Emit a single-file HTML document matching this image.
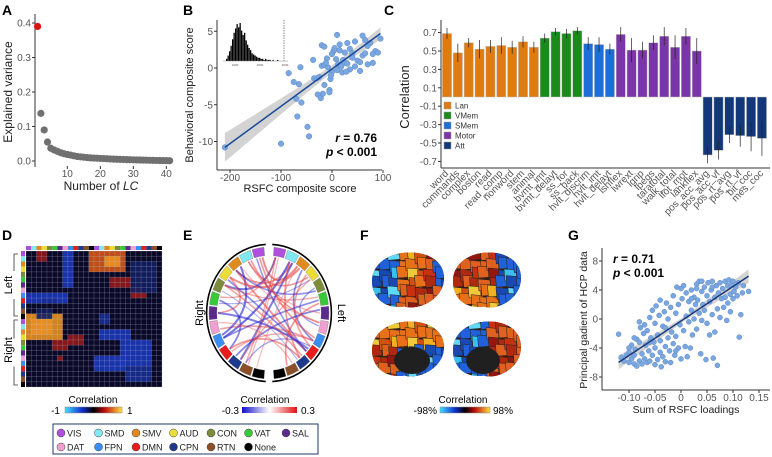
<!DOCTYPE html>
<html><head><meta charset="utf-8"><style>
body{margin:0;background:#fff}
svg{display:block;font-family:"Liberation Sans",sans-serif}
.tk{font-size:10px;fill:#555}
.pl{font-size:14px;font-weight:bold;fill:#000}
</style></head><body>
<svg id="s" width="772" height="457" viewBox="0 0 772 457" xmlns="http://www.w3.org/2000/svg">
<defs>
<linearGradient id="gD" x1="0" x2="1"><stop offset="0" stop-color="#40e0ff"/><stop offset=".3" stop-color="#1030d0"/><stop offset=".5" stop-color="#000"/><stop offset=".7" stop-color="#c01010"/><stop offset="1" stop-color="#ffe040"/></linearGradient>
<linearGradient id="gE" x1="0" x2="1"><stop offset="0" stop-color="#1010c8"/><stop offset=".5" stop-color="#fff"/><stop offset="1" stop-color="#e01010"/></linearGradient>
</defs>
<text class="pl" x="2" y="15">A</text>
<text class="pl" x="183" y="15">B</text>
<text class="pl" x="384" y="15">C</text>
<text class="pl" x="2" y="240">D</text>
<text class="pl" x="183" y="240">E</text>
<text class="pl" x="360" y="240">F</text>
<text class="pl" x="568" y="240">G</text>
<text x="12" y="92" font-size="12" fill="#222" text-anchor="middle" transform="rotate(-90 12 92)">Explained variance</text>
<text x="101" y="190" font-size="12" fill="#222" text-anchor="middle">Number of <tspan font-style="italic">LC</tspan></text>
<text x="193" y="95" font-size="11" fill="#222" text-anchor="middle" transform="rotate(-90 193 95)">Behavioral composite score</text>
<text x="300" y="192" font-size="11" fill="#222" text-anchor="middle">RSFC composite score</text>
<text x="377" y="142" font-size="12" font-weight="bold" text-anchor="end"><tspan font-style="italic">r</tspan> = 0.76</text>
<text x="377" y="156" font-size="12" font-weight="bold" text-anchor="end"><tspan font-style="italic">p</tspan> &lt; 0.001</text>
<text x="409" y="97" font-size="13" fill="#222" text-anchor="middle" transform="rotate(-90 409 97)">Correlation</text>
<text x="587" y="320" font-size="10.5" fill="#222" text-anchor="middle" transform="rotate(-90 587 320)">Principal gadient of HCP data</text>
<text x="686" y="413" font-size="10.5" fill="#222" text-anchor="middle">Sum of RSFC loadings</text>
<text x="613" y="263" font-size="12" font-weight="bold"><tspan font-style="italic">r</tspan> = 0.71</text>
<text x="613" y="277" font-size="12" font-weight="bold"><tspan font-style="italic">p</tspan> &lt; 0.001</text>
<text x="12" y="285" font-size="11" text-anchor="middle" transform="rotate(-90 12 285)">Left</text>
<text x="12" y="350" font-size="11" text-anchor="middle" transform="rotate(-90 12 350)">Right</text>
<text x="203" y="313" font-size="11" text-anchor="middle" transform="rotate(-90 203 313)">Right</text>
<text x="338" y="313" font-size="11" text-anchor="middle" transform="rotate(90 338 313)">Left</text>
<text x="93" y="403" font-size="10" text-anchor="middle">Correlation</text>
<rect x="65" y="407" width="57" height="6" fill="url(#gD)" stroke="#888" stroke-width=".5"/>
<text x="60" y="414" font-size="10" text-anchor="end">-1</text>
<text x="127" y="414" font-size="10">1</text>
<text x="265" y="403" font-size="10" text-anchor="middle">Correlation</text>
<rect x="242" y="407" width="55" height="6" fill="url(#gE)"/>
<text x="239" y="414" font-size="10" text-anchor="end">-0.3</text>
<text x="301" y="414" font-size="10">0.3</text>
<text x="463" y="403" font-size="10" text-anchor="middle">Correlation</text>
<rect x="440" y="407" width="50" height="6" fill="url(#gD)" stroke="#888" stroke-width=".5"/>
<text x="437" y="414" font-size="10" text-anchor="end">-98%</text>
<text x="493" y="414" font-size="10">98%</text>
<rect x="53" y="424" width="265" height="30" fill="#fff" stroke="#1e3a6a" stroke-width="1"/>
</svg>
<script>
const svg=document.getElementById('s');const NS='http://www.w3.org/2000/svg';
function mk(t,a,p){const e=document.createElementNS(NS,t);for(const k in a)e.setAttribute(k,a[k]);(p||svg).appendChild(e);return e;}
function tx(s,a,p){const e=mk('text',a,p);e.textContent=s;return e;}

// ---------- data ----------
const aVariance=[0.39,0.138,0.09,0.055,0.037,0.032,0.028,0.024,0.021,0.019,0.017,0.015,0.013,0.012,0.011,0.010,0.009,0.0085,0.008,0.0075,0.007,0.0065,0.006,0.0055,0.005,0.0047,0.0044,0.004,0.0037,0.0034,0.0031,0.0028,0.0025,0.0023,0.002,0.0018,0.0016,0.0014,0.0012,0.001,0.0008];
const aXTicks=[10,20,30,40];const aYTicks=[0,0.1,0.2,0.3,0.4];
const bX=[-210,-100,-45,-48,-68,-75,-62,-85,-60,-70,-65,-35,-30,-25,-37,-28,-22,-18,-15,-20,-15,-10,-5,-5,-3,0,-2,-8,0,3,5,10,5,8,15,12,18,20,22,25,30,35,40,35,30,40,50,55,60,65,70,75,60,65,80,85,70,55,45,90,95,-20,-15,10,25,28,-12,15,45,80];
const bY=[-10.8,-10.3,-9.3,-8,-6.6,-1.9,0.1,-0.7,-4.7,-4.2,-2.2,-1.4,-1.4,-1.2,1.1,-3.6,-4.1,-3.5,-2.3,0.3,0.4,1.3,-3.0,-3.3,-1.5,-0.5,-1.0,0.1,1.9,2.3,2.5,4.5,2.7,1.2,2.4,0.5,0.2,-0.6,1.1,0.7,3.4,2.6,2.0,-0.2,0.6,1.4,1.0,0.8,1.7,2.0,3.0,3.4,4.4,3.8,0.7,2.3,0.5,-0.4,0.2,2.1,4.0,3.1,2.9,-0.3,2.1,-0.5,0.7,3.2,3.6,1.9];
const bXTicks=[-200,-100,0,100];const bYTicks=[5,0,-5,-10];
const bHist=[2,5,9,14,20,26,30,34,31,35,28,24,26,19,15,12,10,7,6,5,4,3,3,2,2,1,2,1,1,1,0,1,0,0,1,0,0,0,0,0];
const cLabels=['word','commands','complex','boston','read','read_comp','nonword','stem','animal','bvmt_imt','bvmt_delayt','ss_for','ss_back','hvlt_discrim','hvlt_imt','hvlt_delayt','lshflex','lwrext','lgrip','lpegs','taratotal','walk_total','lfot_mot','lankflex','pos_acc_avg','pos_acc_vf','pos_rt_avg','pos_rt_vf','bit_coc','mes_coc'];
const cValues=[0.69,0.48,0.59,0.52,0.55,0.56,0.54,0.60,0.54,0.64,0.71,0.69,0.72,0.58,0.57,0.52,0.68,0.51,0.51,0.59,0.66,0.54,0.66,0.50,-0.63,-0.58,-0.41,-0.42,-0.43,-0.45];
const cErrors=[0.06,0.10,0.05,0.10,0.07,0.09,0.07,0.06,0.06,0.05,0.04,0.05,0.04,0.07,0.08,0.06,0.08,0.13,0.09,0.08,0.10,0.13,0.09,0.14,0.09,0.10,0.09,0.12,0.16,0.19];
const cGroups=[0,0,0,0,0,0,0,0,0,1,1,1,1,2,2,2,3,3,3,3,3,3,3,3,4,4,4,4,4,4];
const cGroupNames=['Lan','VMem','SMem','Motor','Att'];
const cYTicks=[0.7,0.5,0.3,0.1,-0.1,-0.3,-0.5,-0.7];
const gX=[-0.12,-0.115,-0.11,-0.105,-0.10,-0.10,-0.095,-0.095,-0.09,-0.09,-0.088,-0.085,-0.085,-0.08,-0.08,-0.08,-0.078,-0.075,-0.075,-0.072,-0.07,-0.07,-0.068,-0.065,-0.065,-0.062,-0.06,-0.06,-0.058,-0.055,-0.055,-0.052,-0.05,-0.05,-0.05,-0.048,-0.045,-0.045,-0.042,-0.04,-0.04,-0.04,-0.038,-0.035,-0.035,-0.032,-0.03,-0.03,-0.028,-0.025,-0.025,-0.022,-0.02,-0.02,-0.018,-0.015,-0.015,-0.012,-0.01,-0.01,-0.008,-0.005,-0.005,-0.002,0,0,0.002,0.005,0.005,0.008,0.01,0.01,0.012,0.015,0.015,0.018,0.02,0.02,0.022,0.025,0.025,0.028,0.03,0.03,0.032,0.035,0.035,0.038,0.04,0.04,0.042,0.045,0.045,0.048,0.05,0.05,0.052,0.055,0.055,0.058,0.06,0.06,0.062,0.065,0.065,0.068,0.07,0.07,0.072,0.075,0.075,0.078,0.08,0.082,0.085,0.085,0.088,0.09,0.09,0.092,0.095,0.095,0.098,0.1,0.1,0.102,0.105,0.108,0.11,0.112,0.115,0.118,0.12,0.13,-0.06,-0.09,-0.1,0.03,0.04,0.06,0.02,-0.03,-0.01];
const gY=[-2.1,-5.3,-5.8,-5.0,-4.6,-6.0,-5.5,-3.6,-6.2,-5.0,-4.2,-2.8,-6.5,-5.8,-3.2,-0.4,-1.2,-6.2,-4.8,-2.0,-5.5,-0.8,-3.6,-6.0,-1.6,-4.4,-5.8,0.2,-2.6,-5.0,1.2,-3.2,-6.3,-4.0,-0.6,1.8,-5.6,-2.2,0.5,-4.6,-3.0,2.6,-6.6,-5.2,-1.0,1.0,-3.8,-5.9,2.2,-2.6,0.0,-4.4,-6.0,1.6,-1.8,-3.4,3.2,-5.0,0.8,-2.4,4.4,-4.0,2.0,-0.8,4.2,-5.5,2.8,-1.6,4.6,-3.8,0.4,3.6,-5.2,2.4,-0.4,-4.0,1.2,4.0,-2.2,3.0,0.0,2.0,4.8,-1.4,2.6,5.2,0.8,-4.8,3.8,-0.2,2.0,4.4,1.2,-5.6,3.2,-0.6,5.0,2.4,-2.2,4.0,0.6,5.2,-5.4,3.0,-1.8,4.6,1.4,-6.4,3.6,5.0,0.2,2.8,4.2,1.6,5.2,3.0,-0.2,4.6,2.2,5.4,3.4,1.0,4.8,5.2,2.8,3.8,4.4,3.2,5.0,-2.5,0.6,3.6,4.6,3.8,-3.2,-2.6,-4.0,4.2,5.2,4.4,2.8,-1.2,-4.4];
const gXTicks=[-0.10,-0.05,0,0.05,0.10,0.15];const gXTickLabels=['-0.10','-0.05','0','0.05','0.10','0.15'];const gYTicks=[8,4,0,-4,-8];
const netNames=['VIS','SMD','SMV','AUD','CON','VAT','SAL','DAT','FPN','DMN','CPN','RTN','None'];
const netColors=['#b04ee0','#80e8f0','#e08a20','#ecdc38','#7d8c3a','#38c838','#5c2a8c','#f0a0d0','#3a8ef0','#e81c1c','#1e3a8c','#8c5028','#000'];
const dBlocks=[[0,2,2,4,0.6],[0,12,4,19,0.9],[1,15,3,18,1],[0,7,7,9,-0.7],[8,0,10,8,-0.7],[9,3,10,6,-0.5],[5,16,7,20,0.6],[7,20,9,22,0.6],[8,22,9,23,0.7],[12,0,17,7,0.95],[13,1,16,5,1],[17,5,19,8,0.6],[16,8,18,11,0.7],[20,6,21,7,0.6],[15,14,17,20,-0.6],[17,18,22,24,-0.7],[20,13,23,19,-0.6],[22,19,25,24,-0.5],[2,20,8,25,-0.35],[11,2,13,5,-0.3],[12,14,14,16,-0.4]];
const eFromNet=[0,1,2,0,1,3,4,5,7,8,9,10,11,6,2,3,4,5,6,8,9,10,1,0,2,3,4,7,8,9,11,1,3,5,6,10,2,0,4,7];
const eFromSide=[0,0,0,1,1,0,0,0,0,0,0,0,0,0,1,1,1,1,1,1,1,1,0,0,0,0,0,0,0,0,0,1,1,0,0,0,1,1,1,1];
const eToNet=[2,3,1,4,8,9,5,9,8,2,10,1,0,3,8,9,7,11,10,0,2,4,6,9,7,2,10,11,5,8,9,10,5,0,9,3,12,11,2,1];
const eToSide=[1,1,1,0,0,1,1,0,1,0,1,1,1,0,1,1,1,1,0,0,0,0,1,1,1,1,1,1,1,1,1,1,0,1,1,1,0,0,0,0];
const eValues=[0.25,0.2,0.22,-0.25,-0.28,-0.2,0.15,-0.22,0.18,-0.26,0.2,-0.25,0.15,0.2,-0.2,0.18,-0.15,0.2,-0.22,0.2,0.22,0.18,0.12,-0.18,0.1,0.25,-0.1,0.12,-0.2,0.15,-0.14,0.2,-0.12,0.16,-0.25,0.14,0.1,0.12,-0.18,0.2];

// ---------- Panel A ----------
const xA=v=>37.6+(v-1)*3.3, yA=v=>161-v*345;
let e=mk('line',{x1:35,y1:14,x2:35,y2:167,stroke:'#333','stroke-width':1});

aYTicks.forEach(v=>{e=tx(v.toFixed(1),{class:'tk',x:31,y:yA(v)+3.5,'text-anchor':'end'});

mk('line',{x1:32,x2:35,y1:yA(v),y2:yA(v),stroke:'#333'});});
aXTicks.forEach(v=>{e=tx(v,{class:'tk',x:xA(v),y:177,'text-anchor':'middle'});

mk('line',{x1:xA(v),x2:xA(v),y1:166,y2:169,stroke:'#333'});});
aVariance.forEach((v,i)=>{e=mk('circle',{cx:xA(i+1),cy:yA(v),r:3.6,fill:i==0?'#e01010':'#707070'});
});

// ---------- Panel B ----------
const xB=v=>332+v*0.51, yB=v=>68-v*7.35;
const bLine=x=>-0.13+0.0508*x, bHw=x=>Math.sqrt(0.25+(x-15)*(x-15)*0.00007);
let pts=[];for(let x=-210;x<=95;x+=5)pts.push([xB(x),yB(bLine(x)+bHw(x))]);
for(let x=95;x>=-210;x-=5)pts.push([xB(x),yB(bLine(x)-bHw(x))]);
e=mk('polygon',{points:pts.map(p=>p.join(',')).join(' '),fill:'#c8c8c8','fill-opacity':.8});

bX.forEach((x,i)=>{e=mk('circle',{cx:xB(x),cy:yB(bY[i]),r:2.8,fill:'#7ba7e0',stroke:'#5b87c8','stroke-width':.5});
});
e=mk('line',{x1:xB(-210),y1:yB(bLine(-210)),x2:xB(95),y2:yB(bLine(95)),stroke:'#1a4a9a','stroke-width':1.5});

e=mk('line',{x1:217,y1:20,x2:217,y2:170,stroke:'#333'});

e=mk('line',{x1:217,y1:170,x2:382,y2:170,stroke:'#333'});

bYTicks.forEach(v=>{e=tx(v,{class:'tk',x:213,y:yB(v)+3.5,'text-anchor':'end'});

mk('line',{x1:214,x2:217,y1:yB(v),y2:yB(v),stroke:'#333'});});
bXTicks.forEach(v=>{e=tx(v,{class:'tk',x:xB(v),y:181,'text-anchor':'middle'});

mk('line',{x1:xB(v),x2:xB(v),y1:170,y2:173,stroke:'#333'});});
const hMax=Math.max(...bHist);
bHist.forEach((c,i)=>{if(!c)return;e=mk('rect',{x:226+i*1.5,y:61-c/hMax*38,width:1.3,height:c/hMax*38,fill:'#000'});
});
e=mk('line',{x1:223,y1:61,x2:288,y2:61,stroke:'#888','stroke-width':.5});

e=mk('line',{x1:284,y1:20,x2:284,y2:61,stroke:'#444','stroke-width':.6,'stroke-dasharray':'1.5,1'});

['1000','2000','3000'].forEach((s,i)=>{e=tx(s,{x:235+i*25,y:66,'font-size':3,fill:'#555','text-anchor':'middle'});
});

// ---------- Panel C ----------
const yC=v=>97-v*92, xC=i=>447+i*10.86;
const groupColors=['#e07b10','#1a8a1a','#1c6fd8','#7a35a8','#12387a'];
cValues.forEach((v,i)=>{const y0=yC(0),y1=yC(v);
e=mk('rect',{x:xC(i)-4.6,y:Math.min(y0,y1),width:9.2,height:Math.abs(y1-y0),fill:groupColors[cGroups[i]],stroke:'#bbb','stroke-width':.5});

e=mk('line',{x1:xC(i),x2:xC(i),y1:yC(v-cErrors[i]),y2:yC(v+cErrors[i]),stroke:'#222','stroke-width':.7});

e=tx(cLabels[i],{class:'tk','font-size':7.3,x:xC(i)+2,y:174,'text-anchor':'end',transform:`rotate(-45 ${xC(i)+2} 174)`});
});
e=mk('line',{x1:441,y1:20,x2:441,y2:168,stroke:'#333'});

e=mk('line',{x1:441,y1:168,x2:770,y2:168,stroke:'#333'});

cYTicks.forEach(v=>{e=tx(v.toFixed(1),{class:'tk',x:437,y:yC(v)+3.5,'text-anchor':'end'});

mk('line',{x1:438,x2:441,y1:yC(v),y2:yC(v),stroke:'#333'});});
cGroupNames.forEach((n,i)=>{e=mk('rect',{x:444,y:102+i*10,width:7,height:7,fill:groupColors[i],stroke:'#999','stroke-width':.5});

e=tx(n,{x:455,y:108.5+i*10,'font-size':8,fill:'#333'});
});

// ---------- Panel D ----------
const dx0=26,dy0=251,dS=136/26;
e=mk('rect',{x:dx0,y:dy0,width:136,height:136,fill:'#0a0a28'});

function hcol(v){if(v>=0.95)return'#e89020';if(v>=0.85)return'#d05818';if(v>=0.5)return'#901818';if(v>0)return'#601020';if(v<=-0.6)return'#1a36b8';if(v<=-0.4)return'#162c90';return'#121e60';}
dBlocks.forEach(b=>{e=mk('rect',{x:dx0+b[1]*dS,y:dy0+b[0]*dS,width:(b[3]-b[1])*dS,height:(b[2]-b[0])*dS,fill:hcol(b[4]),'fill-opacity':.9});
});
for(let i=0;i<=26;i++){mk('line',{x1:dx0+i*dS,x2:dx0+i*dS,y1:dy0,y2:dy0+136,stroke:'#c8c8e0','stroke-width':.4,'stroke-opacity':.5});
mk('line',{y1:dy0+i*dS,y2:dy0+i*dS,x1:dx0,x2:dx0+136,stroke:'#c8c8e0','stroke-width':.4,'stroke-opacity':.5});}
for(let i=0;i<26;i++){e=mk('rect',{x:dx0+i*dS,y:246,width:dS,height:4,fill:netColors[i%13]});

e=mk('rect',{x:21,y:dy0+i*dS,width:4,height:dS,fill:netColors[i%13]});
}
[[254,316],[320,385]].forEach(r=>{mk('path',{d:`M18 ${r[0]} h-4 v${(r[1]-r[0])/2-14} M14 ${(r[0]+r[1])/2+14} v${(r[1]-r[0])/2-14} h4`,stroke:'#333',fill:'none','stroke-width':.8});});

// ---------- Panel E ----------
const ecx=269,ecy=313,erx=60,ery=66;
function ep(th,r){const a=th*Math.PI/180;return[ecx+r*erx*Math.sin(a),ecy-r*ery*Math.cos(a)];}
function eth(net,side,f){return side? 4+(net+f)*13.23 : 356-(net+f)*13.23;}
e=mk('path',{d:(()=>{let a=ep(3,1.04),b=ep(177,1.04);return `M${a[0]} ${a[1]} A${erx*1.04} ${ery*1.04} 0 0 1 ${b[0]} ${b[1]}`})(),stroke:'#000','stroke-width':1.6,fill:'none'});

e=mk('path',{d:(()=>{let a=ep(183,1.04),b=ep(357,1.04);return `M${a[0]} ${a[1]} A${erx*1.04} ${ery*1.04} 0 0 1 ${b[0]} ${b[1]}`})(),stroke:'#000','stroke-width':1.6,fill:'none'});

for(let s=0;s<2;s++)for(let n=0;n<13;n++){const t0=eth(n,s,0.06),t1=eth(n,s,0.94);
const a=ep(t0,1),b=ep(t1,1),c=ep(t1,0.87),d=ep(t0,0.87);const sw=s?1:0;
e=mk('path',{d:`M${a[0]} ${a[1]} A${erx} ${ery} 0 0 ${sw} ${b[0]} ${b[1]} L${c[0]} ${c[1]} A${erx*.87} ${ery*.87} 0 0 ${1-sw} ${d[0]} ${d[1]}Z`,fill:netColors[n],stroke:'#666','stroke-width':.3});
}
eValues.forEach((v,k)=>{const f=0.5+(k%3-1)*0.25;const a=ep(eth(eFromNet[k],eFromSide[k],f),0.85),b=ep(eth(eToNet[k],eToSide[k],f),0.85);
const cx=ecx+((a[0]+b[0])/2-ecx)*0.3,cy=ecy+((a[1]+b[1])/2-ecy)*0.3;
e=mk('path',{d:`M${a[0]} ${a[1]} Q${cx} ${cy} ${b[0]} ${b[1]}`,fill:'none',stroke:v>0?'#e84040':'#2828d0','stroke-width':0.5+Math.abs(v)*6,'stroke-opacity':0.2+Math.abs(v)*1.6});
});

// ---------- Panel F ----------
function brain(cx,cy,rx,ry,kind,name){const g=mk('g',{});


const id='clip'+name;const cp=mk('clipPath',{id:id},g);
mk('path',{d:`M${cx-rx} ${cy} C${cx-rx} ${cy-ry*1.2} ${cx+rx} ${cy-ry*1.3} ${cx+rx} ${cy-ry*0.1} C${cx+rx} ${cy+ry*0.6} ${cx+rx*0.3} ${cy+ry} ${cx-rx*0.1} ${cy+ry*0.85} C${cx-rx*0.6} ${cy+ry*0.95} ${cx-rx} ${cy+ry*0.6} ${cx-rx} ${cy}Z`},cp);
const cg=mk('g',{'clip-path':`url(#${id})`},g);
mk('rect',{x:cx-rx,y:cy-ry*1.2,width:rx*2,height:ry*2.4,fill:'#3a1c14'},cg);
const pal={blue:['#38c0f0','#2060d8','#60d8f8','#1848b0'],warm:['#f0b020','#e87018','#f0c838','#d05010'],red:['#c83010','#e06020','#901810','#b02810']};
for(let i=-1;i<rx*2/9+1;i++)for(let j=-1;j<ry*2/9+1;j++){const u=i*9/(rx*2),v=j*9/(ry*2);let set;
if(kind==0)set=u<0.33?'blue':(v<0.6&&u<0.75?'warm':(u>0.8&&v<0.5?'blue':'red'));
else if(kind==1)set=u<0.55?(v<0.5?'red':'warm'):'blue';
else if(kind==2)set=v<0.35?'warm':(u<0.35?'red':'blue');
else set=u<0.45?'blue':'red';
const c=pal[set][(i*3+j*5+((i*j)%4))%4];const jx=Math.sin(i*2.3+j*1.7)*2,jy=Math.cos(i*1.3+j*2.9)*2;
const x=cx-rx+i*9+jx,y=cy-ry+j*9+jy;
mk('polygon',{points:`${x-1},${y-1} ${x+11},${y} ${x+12},${y+10} ${x},${y+11}`,fill:c,stroke:'#222','stroke-width':.5},cg);}
if(kind>=2)mk('ellipse',{cx:cx+(kind==2?4:-4),cy:cy+ry*0.35,rx:rx*0.5,ry:ry*0.45,fill:'#202020'},cg);}
brain(408,281,36,30,0,'f-brain-left-lateral');
brain(487,281,34,30,1,'f-brain-right-lateral');
brain(408,350,36,30,2,'f-brain-left-medial');
brain(487,350,34,30,3,'f-brain-right-medial');

// ---------- Panel G ----------
const xG=v=>681+v*520, yG=v=>319-v*7.25;
const gLine=x=>-0.27+47.6*x;
pts=[];for(let x=-0.12;x<=0.131;x+=0.01)pts.push([xG(x),yG(gLine(x)+0.3+Math.abs(x-0.005)*5)]);
for(let x=0.13;x>=-0.121;x-=0.01)pts.push([xG(x),yG(gLine(x)-0.3-Math.abs(x-0.005)*5)]);
e=mk('polygon',{points:pts.map(p=>p.join(',')).join(' '),fill:'#c8c8c8','fill-opacity':.8});

gX.forEach((x,i)=>{e=mk('circle',{cx:xG(x),cy:yG(gY[i]),r:2.5,fill:'#7ba7e0',stroke:'#5b87c8','stroke-width':.5});
});
e=mk('line',{x1:xG(-0.12),y1:yG(gLine(-0.12)),x2:xG(0.13),y2:yG(gLine(0.13)),stroke:'#1a3a7a','stroke-width':1.5});

e=mk('line',{x1:602,y1:248,x2:602,y2:390,stroke:'#333'});

e=mk('line',{x1:602,y1:390,x2:770,y2:390,stroke:'#333'});

gYTicks.forEach(v=>{e=tx(v,{class:'tk',x:598,y:yG(v)+3.5,'text-anchor':'end'});

mk('line',{x1:599,x2:602,y1:yG(v),y2:yG(v),stroke:'#333'});});
gXTicks.forEach((v,i)=>{e=tx(gXTickLabels[i],{class:'tk',x:xG(v),y:401,'text-anchor':'middle'});

mk('line',{x1:xG(v),x2:xG(v),y1:390,y2:393,stroke:'#333'});});

// ---------- network legend ----------
netNames.forEach((n,i)=>{const r=i<7?0:1,c=i<7?i:i-7;const x=61+c*37.5,y=433+r*14;
e=mk('circle',{cx:x,cy:y,r:4,fill:netColors[i],stroke:'#444','stroke-width':.5});

e=tx(n,{x:x+6,y:y+3.5,'font-size':9,fill:'#222'});
});
</script>
</body></html>
